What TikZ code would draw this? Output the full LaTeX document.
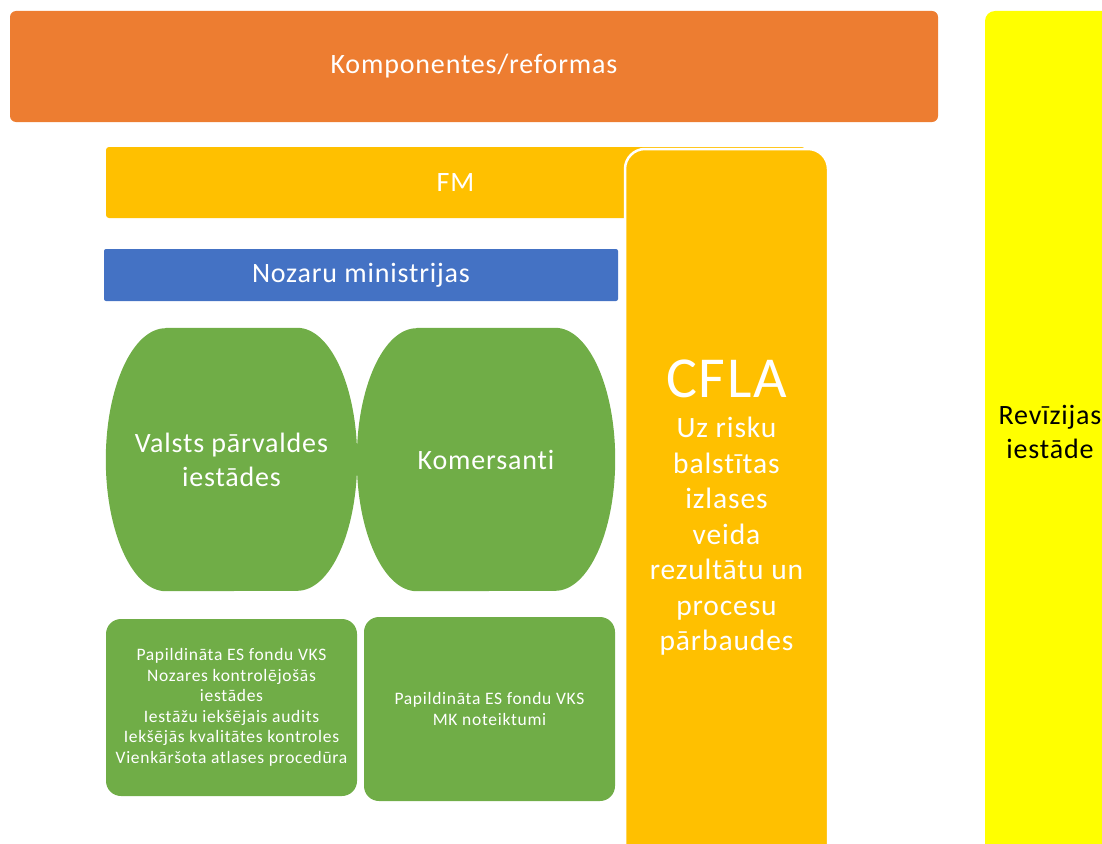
\documentclass[tikz,border=0pt]{standalone}
\usepackage{fontspec}
\setmainfont{Carlito}[LetterSpace=3,Ligatures=NoCommon]
\newfontfamily\notesfont{Carlito}[LetterSpace=4,Ligatures=NoCommon]
\usetikzlibrary{backgrounds,calc}
\definecolor{pptorange}{HTML}{ED7D31}
\definecolor{pptgold}{HTML}{FFC000}
\definecolor{pptblue}{HTML}{4472C4}
\definecolor{pptgreen}{HTML}{70AD47}
\definecolor{pptyellow}{HTML}{FFFF00}

\begin{document}
\begin{tikzpicture}[x=1pt,y=-1pt,
  bar/.style={fill=#1,text=white,inner sep=0pt,align=center,font=\fontsize{28}{34}\selectfont},
  barrel/.style={text=white,inner sep=0pt,align=center,minimum height=263pt,font=\fontsize{28}{34}\selectfont},
  notes/.style={fill=pptgreen,text=white,rounded corners=15pt,inner sep=0pt,align=center,minimum width=251pt,font=\notesfont\fontsize{17.5}{20.5}\selectfont}]
  \useasboundingbox (0,0) rectangle (1102,843);
  \clip (0,0) rectangle (1102,843);
  \node[bar=pptorange,rounded corners=6pt,minimum width=928pt,minimum height=111pt] (komp) at (474,66.5) {Komponentes/reformas};
  \node[bar=pptyellow,text=black,rounded corners=10pt,minimum width=130pt,minimum height=842pt] (rev) at (1050,432) {Revīzijas\\iestāde};
  \node[bar=pptgold,rounded corners=3pt,minimum width=699pt,minimum height=71pt] (fm) at (455.5,182.5) {FM};
  \node[bar=pptblue,rounded corners=2pt,minimum width=514pt,minimum height=52pt] (noz) at (361,275) {Nozaru ministrijas};
  \node[bar=pptgold,draw=white,line width=2.5pt,rounded corners=20pt,minimum width=203pt,minimum height=717pt,font=\fontsize{29.5}{35.5}\selectfont] (cfla) at (726.5,507.5)
    {{\fontsize{58}{58}\selectfont CFLA}\\[5pt] Uz risku\\ balstītas\\ izlases\\ veida\\ rezultātu un\\ procesu\\ pārbaudes};
  \node[barrel,minimum width=251pt] (vpi) at (231.5,459.5) {Valsts pārvaldes\\iestādes};
  \node[barrel,minimum width=258pt] (kom) at (486,459.5) {Komersanti};
  \begin{scope}[on background layer]
    \foreach \n in {vpi,kom}
      \fill[pptgreen] ($(\n.north west)+(60,0)$) -- ($(\n.north east)+(-60,0)$)
        arc[start angle=-90,end angle=90,x radius=60,y radius=131.5]
        -- ($(\n.south west)+(60,0)$)
        arc[start angle=90,end angle=270,x radius=60,y radius=131.5] -- cycle;
  \end{scope}
  \node[notes,minimum height=177pt] (vpinotes) at (231.5,707.5) {Papildināta ES fondu VKS\\ Nozares kontrolējošās\\ iestādes\\ Iestāžu iekšējais audits\\ Iekšējās kvalitātes kontroles\\ Vienkāršota atlases procedūra};
  \node[notes,minimum height=184pt] (komnotes) at (489.5,709) {Papildināta ES fondu VKS\\ MK noteiktumi};
\end{tikzpicture}
\end{document}
